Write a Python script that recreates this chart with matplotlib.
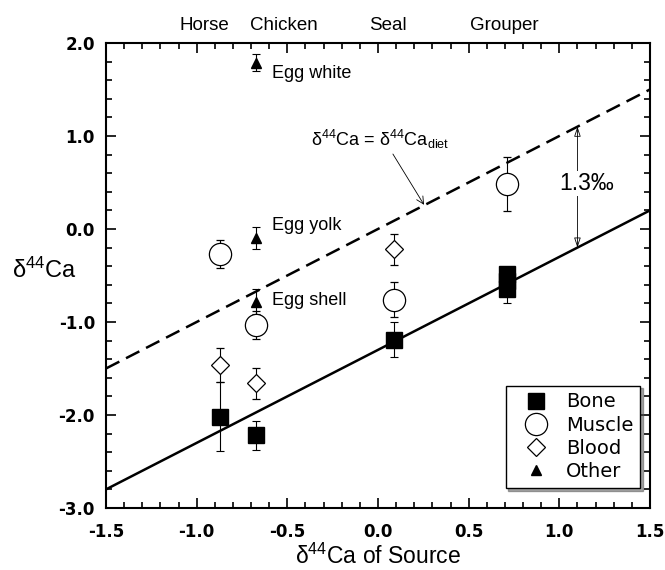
import matplotlib.pyplot as plt
import numpy as np
from matplotlib.ticker import MultipleLocator
from matplotlib.lines import Line2D

plt.rcParams['font.family'] = ['Liberation Sans', 'DejaVu Sans']
plt.rcParams['mathtext.default'] = 'regular'

# top labels (source animals)
species = ["Horse", "Chicken", "Seal", "Grouper"]
species_label_x = [-0.96, -0.52, 0.055, 0.695]

# data per tissue: x = d44Ca of source, y = d44Ca of tissue, err = 1 sd
bone_x = [-0.87, -0.67, 0.09, 0.71, 0.71, 0.71]
bone_y = [-2.02, -2.22, -1.19, -0.48, -0.56, -0.65]
bone_err = [0.37, 0.16, 0.19, 0.0, 0.0, 0.15]

muscle_x = [-0.87, -0.67, 0.09, 0.71]
muscle_y = [-0.27, -1.03, -0.76, 0.48]
muscle_err = [0.15, 0.15, 0.19, 0.29]

blood_x = [-0.87, -0.67, 0.09]
blood_y = [-1.46, -1.66, -0.22]
blood_err = [0.18, 0.17, 0.17]

other_x = [-0.67, -0.67, -0.67]
other_y = [1.79, -0.10, -0.78]
other_err = [0.09, 0.12, 0.13]
other_labels = ["Egg white", "Egg yolk", "Egg shell"]
other_label_dy = [-8, 9, 1]  # points

offset = 1.3  # diet line minus bone line

fig = plt.figure(figsize=(6.65, 5.70), dpi=100)
ax = fig.add_axes([0.1594, 0.1088, 0.8180, 0.8158])

xx = np.array([-1.5, 1.5])
ax.plot(xx, xx, color='black', lw=1.8, ls=(0, (6, 3)), zorder=2)
ax.plot(xx, xx - offset, color='black', lw=1.8, zorder=2)

ekw = dict(ecolor='black', elinewidth=0.8, capsize=3, capthick=0.8, ls='none', zorder=3)
ax.errorbar(bone_x, bone_y, yerr=bone_err, fmt='s', ms=12, mfc='black', mec='black', **ekw)
ax.errorbar(muscle_x, muscle_y, yerr=muscle_err, fmt='o', ms=16, mfc='white', mec='black', mew=0.9, **ekw)
ax.errorbar(blood_x, blood_y, yerr=blood_err, fmt='D', ms=9, mfc='white', mec='black', mew=0.9, **ekw)
ax.errorbar(other_x, other_y, yerr=other_err, fmt='^', ms=7, mfc='black', mec='black', **ekw)

for x, y, lab, dy in zip(other_x, other_y, other_labels, other_label_dy):
    ax.annotate(lab, (x, y), xytext=(11.5, dy), textcoords='offset points',
                fontsize=13, va='center')

ax.annotate(r'$\delta^{44}$Ca = $\delta^{44}$Ca$_{diet}$', xy=(0.254, 0.26), xytext=(-0.37, 0.96),
            fontsize=13, va='center',
            arrowprops=dict(arrowstyle='->', color='black', lw=0.6,
                            shrinkA=0, shrinkB=0, relpos=(0.58, 0)))

xa = 1.1
ax.annotate('', xy=(xa, xa), xytext=(xa, xa - offset),
            arrowprops=dict(arrowstyle='<|-|>,head_width=0.2,head_length=0.6', color='black', lw=0.6,
                            shrinkA=0, shrinkB=0, fill=False))
ax.text(xa + 0.05, 0.49, '1.3‰', fontsize=16.5, ha='center', va='center',
        bbox=dict(fc='white', ec='none', pad=1), zorder=4)

for x, name in zip(species_label_x, species):
    ax.text(x, 2.19, name, fontsize=13.5, ha='center', va='center')

ax.set_xlim(-1.5, 1.5)
ax.set_ylim(-3.0, 2.0)
xt = np.arange(-1.5, 1.51, 0.5)
yt = np.arange(-3, 2.1, 1.0)
ax.set_xticks(xt)
ax.set_xticklabels(['%.1f' % v for v in xt], fontweight='bold', fontsize=12, family='DejaVu Sans')
ax.set_yticks(yt)
ax.set_yticklabels(['%.1f' % v for v in yt], fontweight='bold', fontsize=12, family='DejaVu Sans')
ax.xaxis.set_minor_locator(MultipleLocator(0.1))
ax.yaxis.set_minor_locator(MultipleLocator(0.2))
ax.set_xlim(-1.5, 1.5)
ax.set_ylim(-3.0, 2.0)
ax.tick_params(which='both', direction='in', top=True, right=True, width=1.2)
ax.tick_params(which='major', length=7)
ax.tick_params(which='minor', length=4)
ax.tick_params(axis='x', which='major', pad=11)
ax.tick_params(axis='y', which='major', pad=8)
for s in ax.spines.values():
    s.set_linewidth(1.5)

ax.set_xlabel(r'$\delta^{44}$Ca of Source', fontsize=16.5, labelpad=2)
ax.text(-1.66, -0.44, r'$\delta^{44}$Ca', fontsize=17, ha='right', va='center')

handles = [
    Line2D([], [], ls='none', marker='s', ms=12, mfc='black', mec='black'),
    Line2D([], [], ls='none', marker='o', ms=16, mfc='white', mec='black', mew=0.9),
    Line2D([], [], ls='none', marker='D', ms=9, mfc='white', mec='black', mew=0.9),
    Line2D([], [], ls='none', marker='^', ms=7, mfc='black', mec='black'),
]
leg = ax.legend(handles, ['Bone', 'Muscle', 'Blood', 'Other'], loc='lower right',
                bbox_to_anchor=(0.9816, 0.043), borderaxespad=0, fancybox=False, shadow=True,
                framealpha=1, edgecolor='black', prop={'family': 'DejaVu Sans', 'size': 14},
                labelspacing=0.22, handletextpad=0.35, borderpad=0.35, handlelength=2.4)
leg.get_frame().set_linewidth(1.0)

fig.savefig('out.png', dpi=100)
